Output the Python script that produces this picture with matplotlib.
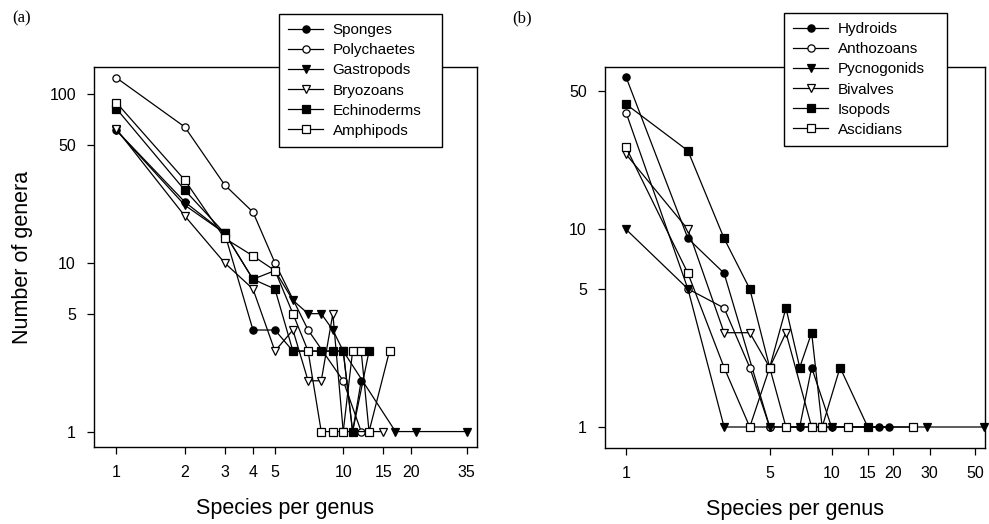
import matplotlib
matplotlib.use("Agg")
import matplotlib.pyplot as plt
from matplotlib.ticker import FixedLocator, FixedFormatter, NullLocator

plt.rcParams['font.family'] = ['Liberation Sans', 'DejaVu Sans']

# ---------------- Panel (a) data ----------------
a_names = ["Sponges", "Polychaetes", "Gastropods", "Bryozoans", "Echinoderms", "Amphipods"]
sponges_x = [1, 2, 3, 4, 5, 6, 8, 10, 11, 12]
sponges_y = [61, 23, 15, 4, 4, 3, 3, 3, 1, 2]
polychaetes_x = [1, 2, 3, 4, 5, 7, 10, 12]
polychaetes_y = [125, 64, 29, 20, 10, 4, 2, 1]
gastropods_x = [1, 2, 3, 4, 5, 6, 7, 8, 9, 10, 17, 21, 35]
gastropods_y = [61, 22, 15, 8, 9, 6, 5, 5, 4, 3, 1, 1, 1]
bryozoans_x = [1, 2, 3, 4, 5, 6, 7, 8, 9, 10, 15]
bryozoans_y = [62, 19, 10, 7, 3, 4, 2, 2, 5, 1, 1]
echinoderms_x = [1, 2, 3, 4, 5, 6, 8, 9, 10, 11, 13]
echinoderms_y = [82, 27, 15, 8, 7, 3, 3, 3, 3, 1, 3]
amphipods_x = [1, 2, 3, 4, 5, 6, 7, 8, 9, 10, 11, 12, 13, 16]
amphipods_y = [89, 31, 14, 11, 9, 5, 3, 1, 1, 1, 3, 3, 1, 3]

a_xticks = [1, 2, 3, 4, 5, 10, 15, 20, 35]
a_yticks = [1, 5, 10, 50, 100]

# ---------------- Panel (b) data ----------------
b_names = ["Hydroids", "Anthozoans", "Pycnogonids", "Bivalves", "Isopods", "Ascidians"]
hydroids_x = [1, 2, 3, 5, 7, 8, 10, 17, 19]
hydroids_y = [59, 9, 6, 1, 1, 2, 1, 1, 1]
anthozoans_x = [1, 2, 3, 4, 5]
anthozoans_y = [39, 5, 4, 2, 1]
pycnogonids_x = [1, 2, 3, 5, 7, 10, 29, 55]
pycnogonids_y = [10, 5, 1, 1, 1, 1, 1, 1]
bivalves_x = [1, 2, 3, 4, 5, 6, 8]
bivalves_y = [24, 10, 3, 3, 2, 3, 1]
isopods_x = [1, 2, 3, 4, 5, 6, 7, 8, 9, 11, 15]
isopods_y = [43, 25, 9, 5, 2, 4, 2, 3, 1, 2, 1]
ascidians_x = [1, 2, 3, 4, 5, 6, 8, 9, 12, 25]
ascidians_y = [26, 6, 2, 1, 2, 1, 1, 1, 1, 1]

b_xticks = [1, 5, 10, 15, 20, 30, 50]
b_yticks = [1, 5, 10, 50]

# marker styles (filled circle, open circle, filled down-tri, open down-tri, filled sq, open sq)
styles = [("o", "black"), ("o", "white"), ("v", "black"), ("v", "white"), ("s", "black"), ("s", "white")]

W, H = 989, 524
fig = plt.figure(figsize=(W / 100, H / 100), dpi=100)


def add_axes_px(left, top, right, bottom):
    return fig.add_axes([left / W, 1 - bottom / H, (right - left) / W, (bottom - top) / H])


def draw_panel(ax, series, names, xticks, yticks, xlim, ylim, legend_px):
    for (xs, ys), name, (m, fc) in zip(series, names, styles):
        ax.plot(xs, ys, color="black", lw=0.9, marker=m, markerfacecolor=fc,
                markeredgecolor="black", markeredgewidth=0.9, markersize=5.6 if m == "s" else 5.2,
                label=name, clip_on=False)
    ax.set_xscale("log")
    ax.set_yscale("log")
    ax.set_xlim(*xlim)
    ax.set_ylim(*ylim)
    ax.xaxis.set_major_locator(FixedLocator(xticks))
    ax.xaxis.set_major_formatter(FixedFormatter([str(t) for t in xticks]))
    ax.xaxis.set_minor_locator(NullLocator())
    ax.yaxis.set_major_locator(FixedLocator(yticks))
    ax.yaxis.set_major_formatter(FixedFormatter([str(t) for t in yticks]))
    ax.yaxis.set_minor_locator(NullLocator())
    ax.tick_params(direction="out", length=5, width=0.9, labelsize=11.5, pad=8)
    for s in ax.spines.values():
        s.set_linewidth(1.0)
    l, t, r, b = legend_px
    leg = ax.legend(loc="upper left", bbox_to_anchor=(l / W, 1 - b / H, (r - l) / W, (b - t) / H),
                    bbox_transform=fig.transFigure, mode="expand", fancybox=False, framealpha=1,
                    edgecolor="black", fontsize=11, handlelength=2.3, handletextpad=0.6,
                    labelspacing=0.4, borderpad=0.6, borderaxespad=0)
    leg.get_frame().set_linewidth(1.0)
    leg.set_zorder(10)


axa = add_axes_px(94, 67, 477, 447)
draw_panel(axa,
           [(sponges_x, sponges_y), (polychaetes_x, polychaetes_y), (gastropods_x, gastropods_y),
            (bryozoans_x, bryozoans_y), (echinoderms_x, echinoderms_y), (amphipods_x, amphipods_y)],
           a_names, a_xticks, a_yticks, (0.796, 38.9), (0.81, 145), (279, 14, 442, 155))
axa.set_xlabel("Species per genus", fontsize=15.5, labelpad=13)
axa.set_ylabel("Number of genera", fontsize=15.5, labelpad=12)

axb = add_axes_px(605, 67, 985, 448)
draw_panel(axb,
           [(hydroids_x, hydroids_y), (anthozoans_x, anthozoans_y), (pycnogonids_x, pycnogonids_y),
            (bivalves_x, bivalves_y), (isopods_x, isopods_y), (ascidians_x, ascidians_y)],
           b_names, b_xticks, b_yticks, (0.79, 55.8), (0.783, 66.3), (784, 13, 947, 155))
axb.set_xlabel("Species per genus", fontsize=15.5, labelpad=13)

fig.text(12 / W, 1 - 18 / H, "(a)", fontsize=12, family="Liberation Serif", va="center", ha="left")
fig.text(512 / W, 1 - 18 / H, "(b)", fontsize=12, family="Liberation Serif", va="center", ha="left")

fig.savefig("out.png", dpi=100)
